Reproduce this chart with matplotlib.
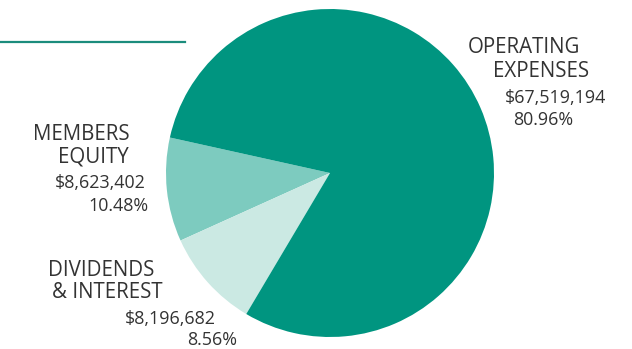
import matplotlib
matplotlib.use("Agg")
import matplotlib.pyplot as plt
from matplotlib.lines import Line2D

plt.rcParams['font.family'] = ['Open Sans', 'DejaVu Sans']

# ma'lumotlar
nomlar = ["MEMBERS\nEQUITY", "DIVIDENDS\n& INTEREST", "OPERATING\nEXPENSES"]
summalar = [8623402, 8196682, 67519194]
summa_matn = ["$8,623,402", "$8,196,682", "$67,519,194"]
foizlar = ["10.48%", "8.56%", "80.96%"]
ranglar = ["#7dcbbf", "#cbe9e3", "#009580"]

W, H = 632, 349
fig = plt.figure(figsize=(W / 100, H / 100), dpi=100)

# pie markazi va radiusi (piksel)
cx, cy, r = 330, 173, 164
ax = fig.add_axes([(cx - r) / W, (H - cy - r) / H, 2 * r / W, 2 * r / H])
ax.pie(summalar, colors=ranglar, startangle=167.5, counterclock=True,
       wedgeprops=dict(linewidth=0))
ax.set_xlim(-1, 1)
ax.set_ylim(-1, 1)
ax.set_aspect('equal')
ax.axis('off')

# yuqoridagi chiziq
fig.add_artist(Line2D([0, 185 / W], [1 - 42 / H, 1 - 42 / H],
                      color="#1b8c7c", lw=1.6, transform=fig.transFigure))

matn_rang = "#333333"


def yoz(x, y, s, size):
    fig.text(x / W, 1 - y / H, s, fontsize=size, color=matn_rang,
             ha='left', va='baseline')


# sarlavhalar (har bir qator alohida)
qator_joylari = [
    [(33, 140), (58, 163)],
    [(48, 276), (52, 298)],
    [(468, 53), (493, 77)],
]
summa_joylari = [(55, 188), (125, 324), (505, 103)]
foiz_joylari = [(88, 211), (187, 345), (513, 125)]

for i in range(3):
    for qator, (x, y) in zip(nomlar[i].split("\n"), qator_joylari[i]):
        yoz(x, y, qator, 14.8)
    yoz(summa_joylari[i][0], summa_joylari[i][1], summa_matn[i], 12.9)
    yoz(foiz_joylari[i][0], foiz_joylari[i][1], foizlar[i], 12.9)

fig.savefig("out.png", dpi=100)
